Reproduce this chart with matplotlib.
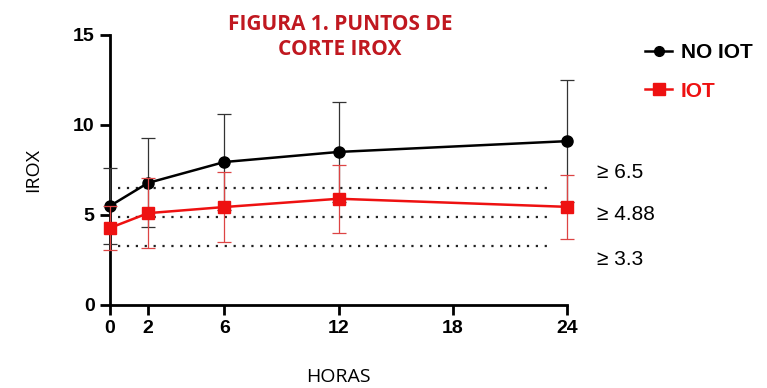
import numpy as np
import matplotlib.pyplot as plt
from matplotlib.lines import Line2D

plt.rcParams['font.family'] = ['Liberation Sans', 'DejaVu Sans']

horas = [0, 2, 6, 12, 24]
no_iot = [5.5, 6.78, 7.94, 8.5, 9.1]
no_iot_sd = [2.1, 2.47, 2.66, 2.8, 3.4]
iot = [4.28, 5.1, 5.44, 5.9, 5.45]
iot_sd = [1.22, 1.94, 1.95, 1.9, 1.78]
cortes = [6.5, 4.88, 3.3]
corte_labels = ["\u2265 6.5", "\u2265 4.88", "\u2265 3.3"]
xticks = [0, 2, 6, 12, 18, 24]
yticks = [0, 5, 10, 15]

red = "#ee1111"

fig = plt.figure(figsize=(7.67, 3.88), dpi=100)
ax = fig.add_axes([0.1434, 0.214, 0.596, 0.696])

# cut-off lines
for c in cortes:
    ax.hlines(c, 0.4, 23.1, colors="#222222", linestyles=(0, (1, 3)), linewidth=1.6)

ax.errorbar(horas, no_iot, yerr=no_iot_sd, color="black", marker="o", markersize=8,
            linewidth=1.8, elinewidth=0.9, capsize=5, capthick=0.9, ecolor="#333333",
            clip_on=False, zorder=3)
ax.errorbar(horas, iot, yerr=iot_sd, color=red, marker="s", markersize=9,
            linewidth=1.8, elinewidth=0.9, capsize=5, capthick=0.9, ecolor="#dd4444",
            clip_on=False, zorder=4)

ax.set_xlim(0, 24)
ax.set_ylim(0, 15)
ax.set_xticks(xticks)
ax.set_yticks(yticks)
for s in ["top", "right"]:
    ax.spines[s].set_visible(False)
for s in ["left", "bottom"]:
    ax.spines[s].set_linewidth(2)
ax.tick_params(width=2, length=7, labelsize=14, pad=4)
for t in ax.get_xticklabels() + ax.get_yticklabels():
    t.set_fontweight("bold")

ax.set_xlabel("HORAS", fontsize=14, labelpad=22, family=["Open Sans", "DejaVu Sans"])
ax.set_ylabel("IROX", fontsize=14, labelpad=22, family=["Open Sans", "DejaVu Sans"])

for c, lab, yy in zip(cortes, corte_labels, [0.556, 0.448, 0.332]):
    fig.text(0.778, yy, lab, fontsize=15, va="center", ha="left")

handles = [Line2D([], [], color="black", marker="o", markersize=7, linewidth=1.8),
           Line2D([], [], color=red, marker="s", markersize=8, linewidth=1.8)]
leg = ax.legend(handles, ["NO IOT", "IOT"], loc="upper left", bbox_to_anchor=(1.13, 1.04),
                frameon=False, fontsize=15, handlelength=1.3, handletextpad=0.4,
                labelspacing=0.95)
for txt, col in zip(leg.get_texts(), ["black", red]):
    txt.set_color(col)
    txt.set_fontweight("bold")

fig.text(0.443, 0.965, "FIGURA 1. PUNTOS DE\nCORTE IROX", color="#c01820", fontsize=15,
         fontweight="bold", ha="center", va="top", linespacing=1.3,
         family=["Open Sans", "DejaVu Sans"])

fig.savefig("out.png", dpi=100)
